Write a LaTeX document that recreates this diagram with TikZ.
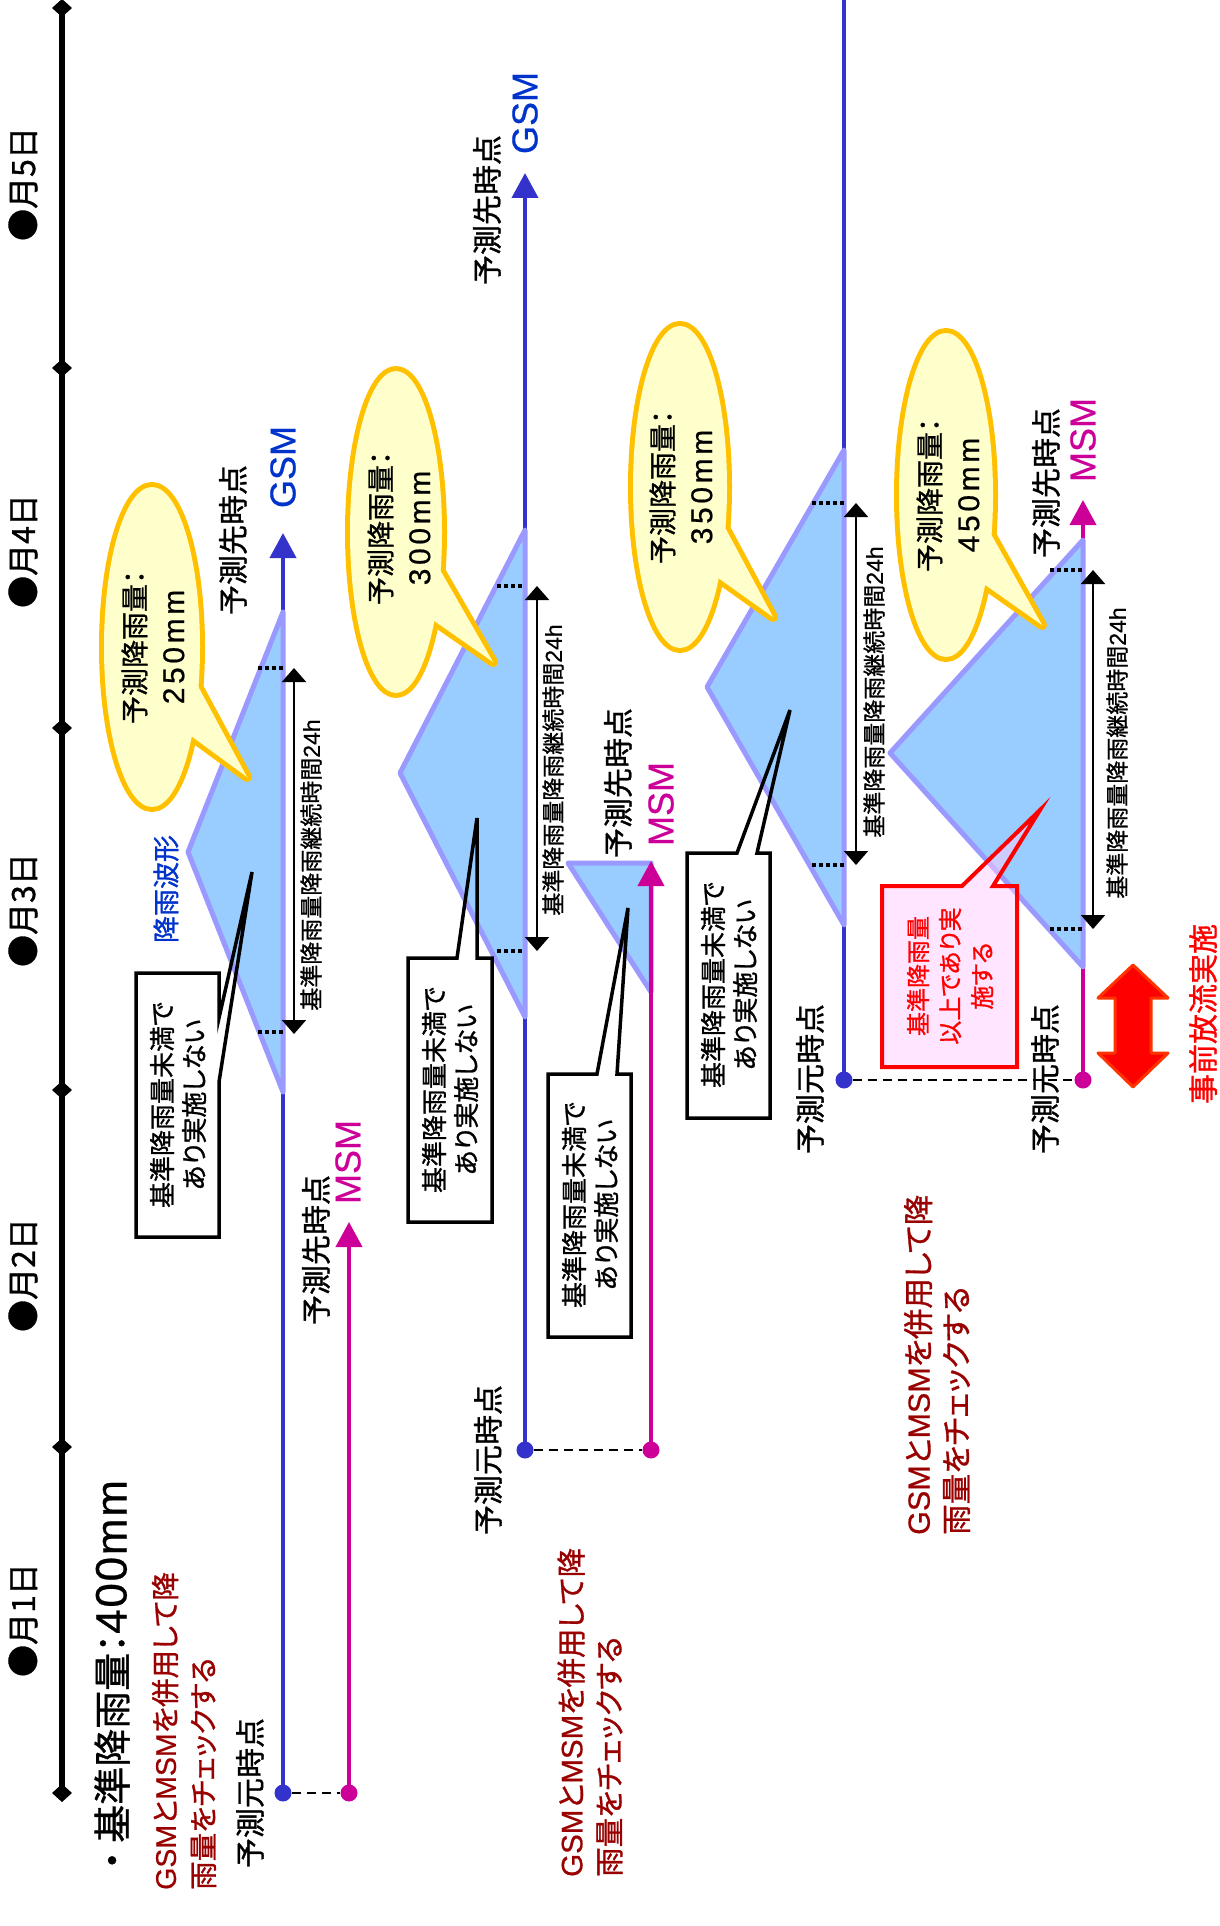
\documentclass[tikz,border=0pt]{standalone}
\usepackage{fontspec}
\setmainfont{Noto Sans CJK JP}[RawFeature=+palt,FakeBold=1.0]
\newfontfamily\lat{Liberation Sans}[FakeBold=0.6]
\newfontfamily\latsp{Liberation Sans}[LetterSpace=12,FakeBold=0.6]
\newfontfamily\latwide{Liberation Sans}[LetterSpace=4,FakeBold=0.6]
\usetikzlibrary{arrows.meta}
\definecolor{gsm}{HTML}{3333CC}
\definecolor{msm}{HTML}{CC0099}
\definecolor{gsmtxt}{HTML}{0033CC}
\definecolor{wavefill}{HTML}{99CCFF}
\definecolor{waveedge}{HTML}{9999FF}
\definecolor{callfill}{HTML}{FFFFCC}
\definecolor{calledge}{HTML}{FFC000}
\definecolor{darkred}{HTML}{990000}
\definecolor{pinkbox}{HTML}{FFCCFF}
\definecolor{arrowedge}{HTML}{FF3300}
\newcommand{\fz}[2]{\fontsize{#1pt}{#2pt}\selectfont}
\newcommand{\rainbubble}[7]{%
  \draw[draw=calledge,line width=10pt] (#1,#2) ellipse[x radius=#3,y radius=#4];
  \draw[draw=calledge,line width=10pt] #5 -- #6 -- #7;
  \fill[callfill] (#1,#2) ellipse[x radius=#3,y radius=#4];
  \fill[callfill] #5 -- #6 -- #7 -- cycle;}
\begin{document}
\begin{tikzpicture}[x=1pt,y=-1pt,line join=round,
  lbl/.style={rotate=90,inner sep=0pt,align=center},
  daylab/.style={lbl,font=\fz{32}{38}},
  ptlab/.style={lbl,font=\fz{30}{36}},
  gsmlab/.style={lbl,font=\lat\fz{36}{40},text=gsmtxt},
  msmlab/.style={lbl,font=\lat\fz{36}{40},text=msm},
  dimlab/.style={lbl,font=\fz{23}{28}},
  boxtxt/.style={lbl,font=\fz{26}{32}},
  calltxt/.style={lbl,font=\fz{28}{39}},
  redtxt/.style={lbl,text=darkred,align=left,anchor=west},
  gsmline/.style={draw=gsm,line width=4pt},
  msmline/.style={draw=msm,line width=4pt},
  gdot/.style={circle,fill=gsm,minimum size=17pt,inner sep=0pt},
  mdot/.style={circle,fill=msm,minimum size=17pt,inner sep=0pt},
  uptip/.style={-{Triangle[width=26pt,length=25pt]}},
  dashln/.style={draw=black,line width=2.5pt,dash pattern=on 9pt off 6pt},
  dotln/.style={draw=black,line width=3.5pt,dash pattern=on 3.5pt off 3.5pt},
  dimarr/.style={draw=black,line width=2pt,{Triangle[width=24pt,length=14pt]}-{Triangle[width=24pt,length=14pt]}},
  wave/.style={fill=wavefill,draw=waveedge,line width=5pt,line join=round},
  blackbox/.style={draw=black,line width=3.5pt,line join=miter},
]
\useasboundingbox (0,0) rectangle (1219,1926);

% ---------- time axis ----------
\coordinate (axtop) at (62,8);
\coordinate (axbot) at (62,1793);
\draw[line width=6pt] (axtop) -- (axbot);
\foreach \yy in {8,368,728,1090,1447,1793}
  \fill (52,\yy) -- (62,\yy-9) -- (72,\yy) -- (62,\yy+9) -- cycle;
\node[daylab] (day5) at (23,184) {●月5日};
\node[daylab] (day4) at (23,551) {●月4日};
\node[daylab] (day3) at (23,910) {●月3日};
\node[daylab] (day2) at (23,1275) {●月2日};
\node[daylab] (day1) at (23,1620) {●月1日};

\node[lbl,anchor=west,font=\fz{38}{40}] (kijun) at (112,1870) {・\hspace{8pt}基準降雨量：{\latwide\fz{44}{44}400mm}};

% ---------- forecast lines ----------
\node[gdot] (g1o) at (283,1793) {};
\coordinate (g1t) at (283,533);
\node[mdot] (m1o) at (349,1793) {};
\coordinate (m1t) at (349,1222);
\node[gdot] (g2o) at (525,1450) {};
\coordinate (g2t) at (525,173);
\node[mdot] (m2o) at (651,1450) {};
\coordinate (m2t) at (651,861);
\node[gdot] (g3o) at (844,1080) {};
\coordinate (g3t) at (844,0);
\node[mdot] (m3o) at (1083,1080) {};
\coordinate (m3t) at (1083,500);

\draw[gsmline,uptip] (g1o.center) -- (g1t);
\draw[msmline,uptip] (m1o.center) -- (m1t);
\draw[gsmline,uptip] (g2o.center) -- (g2t);
\draw[gsmline] (g3o.center) -- (g3t);
\draw[msmline,uptip] (m3o.center) -- (m3t);

% ---------- rain waveforms ----------
\draw[wave] (283,612) -- (188,852) -- (283,1092) -- cycle;
\draw[wave] (525,530) -- (400,773) -- (525,1017) -- cycle;
\draw[wave] (568,863) -- (651,863) -- (651,992) -- cycle;
\draw[wave] (844,450) -- (707,687) -- (844,925) -- cycle;
\draw[wave] (1083,540) -- (890,753) -- (1083,967) -- cycle;
\draw[msmline,uptip] (m2o.center) -- (m2t);

% ---------- 24h dimension marks ----------
\coordinate (d1a) at (258,668);  \coordinate (d1b) at (283,668);
\coordinate (d1c) at (258,1032); \coordinate (d1d) at (283,1032);
\draw[dotln] (d1a) -- (d1b); \draw[dotln] (d1c) -- (d1d);
\coordinate (a1a) at (294,668); \coordinate (a1b) at (294,1034);
\draw[dimarr] (a1a) -- (a1b);
\node[dimlab] (lab1) at (311,865) {基準降雨量降雨継続時間{\lat 24h}};

\coordinate (d2a) at (497,586); \coordinate (d2b) at (525,586);
\coordinate (d2c) at (497,951); \coordinate (d2d) at (525,951);
\draw[dotln] (d2a) -- (d2b); \draw[dotln] (d2c) -- (d2d);
\coordinate (a2a) at (537,586); \coordinate (a2b) at (537,951);
\draw[dimarr] (a2a) -- (a2b);
\node[dimlab] (lab2) at (553,770) {基準降雨量降雨継続時間{\lat 24h}};

\coordinate (d3a) at (812,503); \coordinate (d3b) at (844,503);
\coordinate (d3c) at (812,865); \coordinate (d3d) at (844,865);
\draw[dotln] (d3a) -- (d3b); \draw[dotln] (d3c) -- (d3d);
\coordinate (a3a) at (856,503); \coordinate (a3b) at (856,865);
\draw[dimarr] (a3a) -- (a3b);
\node[dimlab] (lab3) at (874,692) {基準降雨量降雨継続時間{\lat 24h}};

\coordinate (d4a) at (1050,570); \coordinate (d4b) at (1083,570);
\coordinate (d4c) at (1050,929); \coordinate (d4d) at (1083,929);
\draw[dotln] (d4a) -- (d4b); \draw[dotln] (d4c) -- (d4d);
\coordinate (a4a) at (1093,570); \coordinate (a4b) at (1093,929);
\draw[dimarr] (a4a) -- (a4b);
\node[dimlab] (lab4) at (1117,753) {基準降雨量降雨継続時間{\lat 24h}};

% ---------- yellow bubbles ----------
\rainbubble{152}{647}{48}{160}{(193,677)}{(247,777)}{(187,733)}
\node[calltxt] (c1) at (153,647) {予測降雨量：\\{\latsp\fz{30}{39}250mm}};
\rainbubble{396}{532}{46}{161}{(436,563)}{(493,662)}{(430,618)}
\node[calltxt] (c2) at (399,528) {予測降雨量：\\{\latsp\fz{30}{39}300mm}};
\rainbubble{680}{487}{47}{161}{(721,520)}{(773,617)}{(714,575)}
\node[calltxt] (c3) at (681,487) {予測降雨量：\\{\latsp\fz{30}{39}350mm}};
\rainbubble{946}{495}{47}{162}{(987,527)}{(1042,625)}{(981,582)}
\node[calltxt] (c4) at (948,495) {予測降雨量：\\{\latsp\fz{30}{39}450mm}};

% ---------- black callout boxes ----------
\draw[blackbox] (136,973) -- (219,973) -- (219,1018) -- (252,872) -- (219,1082) -- (219,1237) -- (136,1237) -- cycle;
\node[boxtxt] (b1) at (178,1105) {基準降雨量未満で\\あり実施しない};
\draw[blackbox] (408,958) -- (457,958) -- (477,818) -- (477,958) -- (492,958) -- (492,1222) -- (408,1222) -- cycle;
\node[boxtxt] (b2) at (450,1090) {基準降雨量未満で\\あり実施しない};
\draw[blackbox] (548,1074) -- (597,1074) -- (628,908) -- (617,1074) -- (631,1074) -- (631,1337) -- (548,1337) -- cycle;
\node[boxtxt] (b3) at (590,1205) {基準降雨量未満で\\あり実施しない};
\draw[blackbox] (687,853) -- (737,853) -- (790,710) -- (757,853) -- (770,853) -- (770,1118) -- (687,1118) -- cycle;
\node[boxtxt] (b4) at (729,985) {基準降雨量未満で\\あり実施しない};

% ---------- red callout + arrow ----------
\draw[draw=red,line width=4pt,fill=pinkbox,fill opacity=0.5,line join=miter] (882,886) -- (962,886) -- (1040,810) -- (993,886) -- (1017,886) -- (1017,1067) -- (882,1067) -- cycle;
\node[lbl,font=\fz{24}{32},text=red] (rb) at (950,976) {基準降雨量\\以上であり実\\施する};
\draw[fill=red,draw=arrowedge,line width=3pt] (1133,965) -- (1168,998) -- (1151,998) -- (1151,1053) -- (1168,1053) -- (1133,1087) -- (1098,1053) -- (1115,1053) -- (1115,998) -- (1098,998) -- cycle;
\node[lbl,font=\fz{30}{34},text=red] (jizen) at (1203,1014) {事前放流実施};

% ---------- origin connections ----------
\draw[dashln] (g1o) -- (m1o);
\draw[dashln] (g2o) -- (m2o);
\draw[dashln] (g3o) -- (m3o);

% ---------- labels ----------
\node[ptlab] (p1a) at (233,540) {予測先時点};
\node[gsmlab] (gsm1) at (283,467) {GSM};
\node[ptlab] (p1b) at (316,1250) {予測先時点};
\node[msmlab] (msm1) at (348,1162) {MSM};
\node[ptlab] (p1c) at (250,1793) {予測元時点};
\node[lbl,font=\fz{27}{32},text=gsmtxt] (wave) at (166,889) {降雨波形};

\node[ptlab] (p2a) at (487,210) {予測先時点};
\node[gsmlab] (gsm2) at (525,113) {GSM};
\node[ptlab] (p2b) at (618,783) {予測先時点};
\node[msmlab] (msm2) at (661,804) {MSM};
\node[ptlab] (p2c) at (488,1460) {予測元時点};

\node[ptlab] (p3a) at (810,1079) {予測元時点};
\node[ptlab] (p3b) at (1045,1079) {予測元時点};
\node[ptlab] (p3c) at (1046,483) {予測先時点};
\node[msmlab] (msm3) at (1083,440) {MSM};

\node[redtxt,font=\fz{28.5}{38}] (chk1) at (184,1890) {{\lat GSM}と{\lat MSM}を併用して降\\雨量をチェックする};
\node[redtxt,font=\fz{29.5}{38}] (chk2) at (590,1877) {{\lat GSM}と{\lat MSM}を併用して降\\雨量をチェックする};
\node[redtxt,font=\fz{30.5}{38}] (chk3) at (937,1535) {{\lat GSM}と{\lat MSM}を併用して降\\雨量をチェックする};
\end{tikzpicture}
\end{document}
